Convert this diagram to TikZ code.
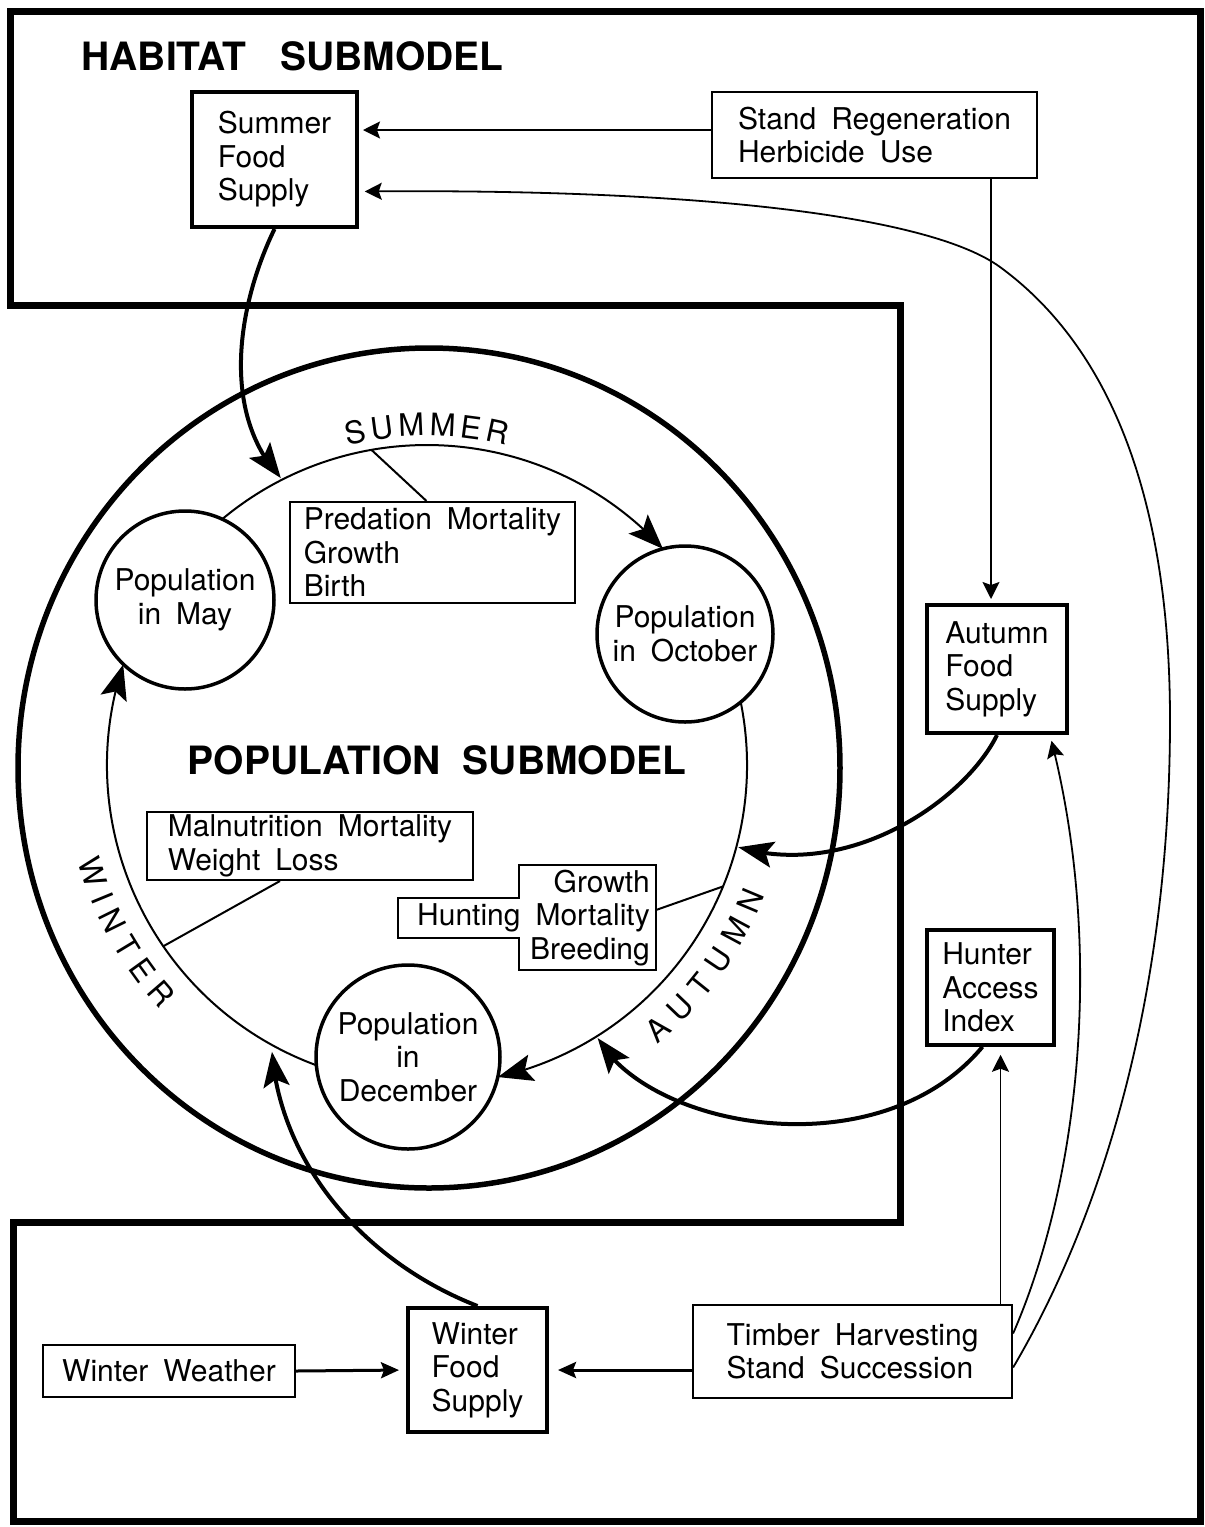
\documentclass[tikz,border=0pt]{standalone}
\usepackage{fontspec}
\setmainfont{TeX Gyre Heros}[WordSpace=1.8]
\newfontfamily\seasonfamily{TeX Gyre Heros}
\usetikzlibrary{arrows.meta,calc,decorations.text,bending}
\newcommand{\boxfont}{\fontsize{30}{33.5}\selectfont}
\newcommand{\titlefont}{\bfseries\fontsize{39}{44}\selectfont}
\newcommand{\seasonfont}{\seasonfamily\fontsize{31}{33}\selectfont}
\begin{document}
\begin{tikzpicture}[x=1pt, y=-1pt, font=\boxfont,
    habbox/.style={draw, line width=4pt, align=left, inner sep=0pt},
    thinbox/.style={draw, line width=2.2pt, align=left, inner sep=0pt},
    popcirc/.style={draw, circle, line width=3.5pt, align=center, inner sep=0pt},
    cyclearr/.style={line width=2pt, -{Stealth[length=35pt, width=27pt, inset=7pt]}},
    bigarr/.style={line width=4pt, -{Stealth[length=35pt, width=26pt, inset=7pt]}},
    thinarr/.style={line width=1.8pt, -{Stealth[length=17pt, width=17pt, inset=3pt]}},
    midarr/.style={line width=3pt, -{Stealth[length=18pt, width=16pt, inset=3pt]}},
    link/.style={line width=2pt},
    season/.style={decorate, decoration={text along path, text align={fit to path}, text={|\seasonfont|#1}}}]
\useasboundingbox (0,0) rectangle (1205,1527);
\draw[line width=7pt] (10,11) -- (1200,11) -- (1200,1521) -- (13,1521) -- (13,1222)
    -- (900,1222) -- (900,305) -- (10,305) -- cycle;
\node[anchor=base west, font=\titlefont] (habtitle) at (78,70) {HABITAT\hspace{34pt}SUBMODEL};

\draw[line width=5.5pt] (429,768) ellipse [x radius=411, y radius=420];
\coordinate (cyc) at (427,765);
\node[font=\titlefont] (poptitle) at (437,760) {POPULATION\hspace{22pt}SUBMODEL};

\node[popcirc, minimum size=178pt] (may) at (185,600) {Population\\in May};
\node[popcirc, minimum size=176pt] (oct) at (685,634) {Population\\in October};
\node[popcirc, minimum size=184pt] (dec) at (408,1057) {Population\\in\\December};

\draw[cyclearr] ($(cyc)+(-129.8:320)$) arc[start angle=-129.8, end angle=-42.5, radius=320];
\draw[cyclearr] ($(cyc)+(-11.3:320)$) arc[start angle=-11.3, end angle=77.2, radius=320];
\draw[cyclearr] ($(cyc)+(-249.8:320)$) arc[start angle=-249.8, end angle=-161.7, radius=320];

\path[season={SUMMER}] ($(cyc)+(-104:329)$) arc[start angle=-104, end angle=-76, radius=329];
\path[season={WINTER}] ($(cyc)+(-195.5:362)$) arc[start angle=-195.5, end angle=-222.5, radius=362];
\path[season={AUTUMN}] ($(cyc)+(50.5:362)$) arc[start angle=50.5, end angle=21, radius=362];

\coordinate (predpt) at ($(cyc)+(-100:320)$);
\coordinate (malnpt) at ($(cyc)+(145.5:320)$);
\coordinate (huntpt) at ($(cyc)+(22.3:320)$);
\coordinate (sfoodpt) at ($(cyc)+(-117:322)$);
\coordinate (afoodpt) at ($(cyc)+(14.8:322)$);
\coordinate (accesspt) at ($(cyc)+(58:322)$);
\coordinate (wfoodpt) at ($(cyc)+(118.4:326)$);

\node[thinbox, line width=2pt, minimum width=285pt, minimum height=101pt] (pred) at (432.5,552.5) {Predation Mortality\\Growth\\Birth};
\draw[link] ([xshift=-6pt]pred.north) -- (predpt);
\node[thinbox, line width=2pt, minimum width=326pt, minimum height=68pt] (maln) at (310,846) {Malnutrition Mortality\\Weight Loss};
\draw[link] ([xshift=-30pt]maln.south) -- (malnpt);
\node[anchor=east, align=right, inner sep=0pt] (hmort) at (650,918) {Growth\\Hunting Mortality\\Breeding};
\draw[link] (519,865) -- (656,865) -- (656,970) -- (519,970) -- (519,938) -- (398,938) -- (398,898) -- (519,898) -- cycle;
\draw[link] ([xshift=6pt, yshift=8pt]hmort.east) -- (huntpt);

\node[habbox, minimum width=165pt, minimum height=135pt] (sfood) at (274.5,159.5) {Summer\\Food\\Supply};
\node[thinbox, minimum width=325pt, minimum height=86pt] (sregen) at (874.5,135) {Stand Regeneration\\Herbicide Use};
\node[habbox, minimum width=140pt, minimum height=128pt] (afood) at (997,669) {Autumn\\Food\\Supply};
\node[habbox, line width=3.5pt, minimum width=127pt, minimum height=115pt] (access) at (990.5,987.5) {Hunter\\Access\\Index};
\node[thinbox, minimum width=252pt, minimum height=52pt, align=center] (wweath) at (169,1371) {Winter Weather};
\node[habbox, minimum width=139pt, minimum height=124pt] (wfood) at (477.5,1370) {Winter\\Food\\Supply};
\node[thinbox, minimum width=319pt, minimum height=93pt] (timb) at (852.5,1351.5) {Timber Harvesting\\Stand Succession};

\draw[thinarr, shorten >=4pt] ([yshift=5pt]sregen.west) -- ([yshift=5pt]sregen.west -| sfood.east);
\draw[thinarr, shorten >=4pt] ([xshift=-6pt]afood.north |- sregen.south) -- ([xshift=-6pt]afood.north);
\draw[thinarr, shorten >=8pt] ([xshift=10pt]access.south |- timb.north) -- ([xshift=10pt]access.south);
\draw[midarr, shorten >=7pt] (wweath.east) -- (wfood.west);
\draw[midarr, shorten >=9pt] (timb.west |- wfood.west) -- (wfood.east);
\draw[thinarr, shorten >=6pt] ([yshift=-16pt]timb.east) .. controls (1100,1220) and (1170,1000) .. (1170,720)
    .. controls (1170,480) and (1100,340) .. (1000,267)
    .. controls (930,216) and (700,188) .. ([yshift=-32pt]sfood.east);
\draw[thinarr, shorten >=6pt] ([yshift=18pt]timb.east) .. controls (1080,1180) and (1105,945) .. ([xshift=53pt]afood.south);

\draw[bigarr] (sfood.south) .. controls (240,300) and (218,410) .. (sfoodpt);
\draw[bigarr] (afood.south) .. controls (965,800) and (850,880) .. (afoodpt);
\draw[bigarr] ([xshift=-8pt]access.south) .. controls (880,1170) and (650,1130) .. (accesspt);
\draw[bigarr] (wfood.north) .. controls (360,1260) and (280,1160) .. (wfoodpt);
\end{tikzpicture}
\end{document}
